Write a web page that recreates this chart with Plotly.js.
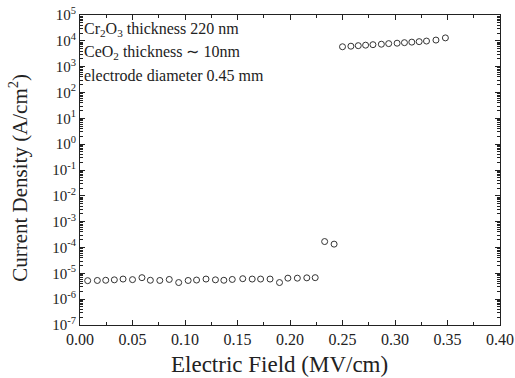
<!DOCTYPE html>
<html>
<head>
<meta charset="utf-8">
<script src="https://cdn.plot.ly/plotly-3.0.1.min.js"></script>
<style>html,body{margin:0;padding:0;background:#fff;}#chart{width:515px;height:378px;}</style>
</head>
<body>
<div id="chart"></div>
<script>
const fieldLow = [0.0073,0.0165,0.0245,0.0327,0.041,0.050,0.059,0.067,0.076,0.085,0.094,0.103,0.111,0.120,0.129,0.137,0.145,0.155,0.164,0.172,0.181,0.190,0.198,0.207,0.216,0.224,0.233,0.242];
const currentLow = [5.2e-6,5.3e-6,5.4e-6,5.6e-6,6.0e-6,5.7e-6,6.8e-6,5.4e-6,5.3e-6,5.8e-6,4.4e-6,5.3e-6,5.5e-6,6.0e-6,5.6e-6,5.4e-6,5.8e-6,6.2e-6,6.0e-6,6.0e-6,6.0e-6,4.4e-6,6.5e-6,6.5e-6,6.7e-6,6.8e-6,1.7e-4,1.35e-4];
const fieldHigh = [0.250,0.258,0.265,0.272,0.279,0.287,0.294,0.302,0.309,0.316,0.323,0.330,0.339,0.348];
const currentHigh = [5.9e3,6.2e3,6.5e3,6.8e3,7.1e3,7.4e3,7.8e3,8.1e3,8.5e3,8.9e3,9.3e3,9.8e3,1.07e4,1.3e4];
const yExponents = [-7,-6,-5,-4,-3,-2,-1,0,1,2,3,4,5];
const notes = ["Cr<sub>2</sub>O<sub>3</sub> thickness 220 nm","CeO<sub>2</sub> thickness \u223C 10nm","electrode diameter 0.45 mm"];
const xTitle = 'Electric Field (MV/cm)';
const yTitle = 'Current Density (A/cm<sup>2</sup>)';

const yTickVals = yExponents.map(e => Math.pow(10, e));
const yTickText = yExponents.map(e => '10<sup>' + e + '</sup>');
const yMinorVals = [];
yExponents.slice(0, -1).forEach(e => { for (let m = 2; m <= 9; m++) yMinorVals.push(m * Math.pow(10, e)); });

const marker = {symbol:'circle-open', size:6, color:'#333', line:{width:1, color:'#333'}};
const data = [
  {x: fieldLow.concat(fieldHigh), y: currentLow.concat(currentHigh), mode:'markers', type:'scatter', marker: marker, showlegend:false}
];
const fam = 'Liberation Serif, Times New Roman, serif';
const F = s => ({family: fam, size: s, color: '#222'});
const layout = {
  width:515, height:378,
  margin:{l:80, r:15, t:15, b:53},
  paper_bgcolor:'#fff', plot_bgcolor:'#fff',
  font: F(14),
  xaxis:{
    range:[0,0.40], dtick:0.05, tick0:0, tickformat:'.2f',
    ticks:'inside', ticklen:5, tickcolor:'#222', mirror:'ticks',
    showline:true, linecolor:'#222', linewidth:1, showgrid:false, zeroline:false,
    minor:{dtick:0.025, ticks:'inside', ticklen:3, tickcolor:'#222', showgrid:false},
    tickfont: F(16)
  },
  yaxis:{
    type:'log', range:[-7,5], tickmode:'array', tickvals:yTickVals, ticktext:yTickText,
    ticks:'inside', ticklen:5, tickcolor:'#222', mirror:'ticks',
    showline:true, linecolor:'#222', linewidth:1, showgrid:false, zeroline:false,
    minor:{tickmode:'array', tickvals:yMinorVals, ticks:'inside', ticklen:3, tickcolor:'#222', showgrid:false},
    tickfont: F(15)
  },
  annotations: notes.map((t,i)=>({
    text:t, xref:'paper', yref:'paper', x:0.005, y:[0.952,0.88,0.806][i],
    xanchor:'left', yanchor:'middle', showarrow:false,
    font:F(16)
  })).concat([{
    text:yTitle, xref:'paper', yref:'paper', x:-0.145, y:0.475,
    xanchor:'center', yanchor:'middle', textangle:-90, showarrow:false,
    font:F(21)
  },{
    text:xTitle, xref:'paper', yref:'paper', x:0.474, y:-0.129,
    xanchor:'center', yanchor:'middle', showarrow:false,
    font:F(23)
  }])
};
Plotly.newPlot('chart', data, layout, {displayModeBar:false, staticPlot:true});
</script>
</body>
</html>
